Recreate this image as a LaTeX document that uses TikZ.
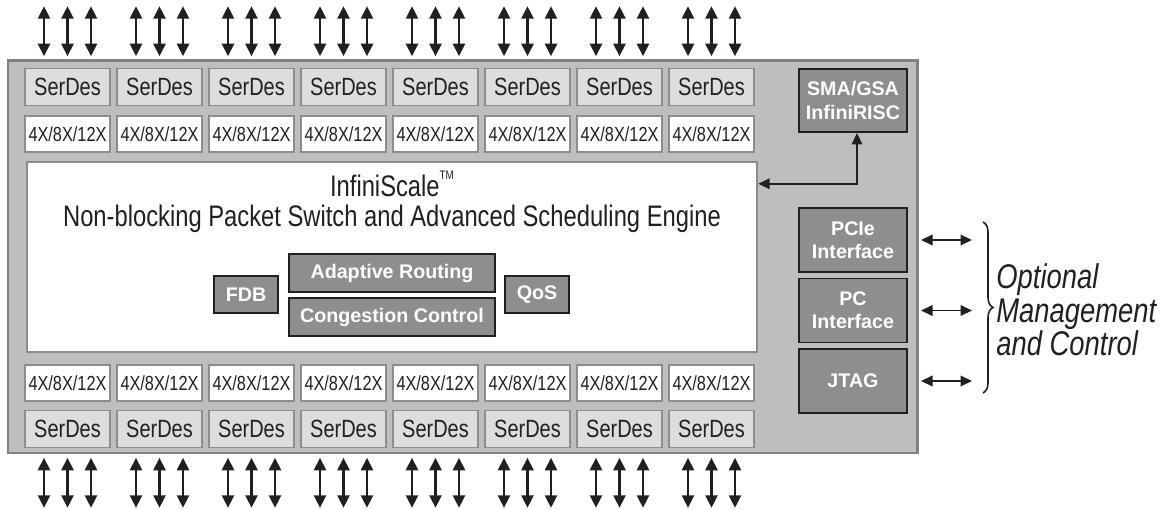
\documentclass[tikz,border=0pt]{standalone}
\usepackage{fontspec}
\usepackage{tikz}
\usetikzlibrary{arrows.meta,decorations.pathreplacing}

\newfontfamily\condfont[FakeStretch=0.8]{Liberation Sans}
\newfontfamily\headfont{Liberation Sans}

\definecolor{chipfill}{HTML}{BDBEC0}
\definecolor{chipedge}{HTML}{808183}
\definecolor{serfill}{HTML}{DCDDDE}
\definecolor{boxedge}{HTML}{8C8D8F}
\definecolor{darkfill}{HTML}{8D8E90}
\definecolor{ink}{HTML}{231F20}

\tikzset{
  chip/.style={draw=chipedge, fill=chipfill, line width=1.7pt, inner sep=0pt},
  serdes/.style={draw=boxedge, fill=serfill, line width=0.9pt, inner sep=0pt,
    minimum width=1.7cm, minimum height=0.74cm, text=ink,
    font=\condfont\fontsize{14.2}{16}\selectfont},
  lane/.style={serdes, fill=white, minimum height=0.72cm,
    font=\condfont\fontsize{11.6}{13}\selectfont},
  darkbox/.style={draw=ink, fill=darkfill, line width=1.1pt, inner sep=0pt,
    text=white, align=center, font=\headfont\bfseries\fontsize{11.2}{13.2}\selectfont},
  bidir/.style={line width=1.4pt, ink,
    {Triangle[length=0.25cm,width=0.24cm]}-{Triangle[length=0.25cm,width=0.24cm]}},
  sidearrow/.style={line width=1.1pt, ink,
    {Triangle[length=0.23cm,width=0.21cm]}-{Triangle[length=0.23cm,width=0.21cm]}}
}

\begin{document}
\begin{tikzpicture}
\useasboundingbox (0,0) rectangle (23.38,-10.2);

% chip outline and switch core
\node[chip, minimum width=18.18cm, minimum height=7.84cm] (chip) at (9.25,-5.14) {};
\node[draw=boxedge, fill=white, line width=1.4pt, inner sep=0pt,
      minimum width=14.6cm, minimum height=3.8cm] (core) at (7.84,-5.14) {};
\node[anchor=base, text=ink, font=\condfont\fontsize{16.9}{18}\selectfont] (title) at (7.84,-3.94)
  {InfiniScale\raisebox{1.1ex}{\fontsize{7}{7}\selectfont TM}};
\node[anchor=base, text=ink, font=\condfont\fontsize{16.9}{18}\selectfont] (subtitle) at (7.84,-4.54)
  {Non-blocking Packet Switch and Advanced Scheduling Engine};

% ports: SerDes and link width, top and bottom
\foreach \i in {1,...,8} {
  \pgfmathsetmacro\cx{1.35+1.84*(\i-1)}
  \node[serdes] (sdt\i) at (\cx,-1.74) {SerDes};
  \node[lane] (lnt\i) at (\cx,-2.68) {4X/8X/12X};
  \node[lane] (lnb\i) at (\cx,-7.66) {4X/8X/12X};
  \node[serdes] (sdb\i) at (\cx,-8.58) {SerDes};
  \foreach \d in {-0.47,0,0.47} {
    \draw[bidir] ([xshift=\d cm, yshift=0.23cm]sdt\i.north) -- ++(0,1.0);
    \draw[bidir] ([xshift=\d cm, yshift=-0.19cm]sdb\i.south) -- ++(0,-1.0);
  }
}

% engine blocks
\node[darkbox, minimum width=1.28cm, minimum height=0.74cm] (fdb) at (4.92,-5.89) {FDB};
\node[darkbox, minimum width=4.12cm, minimum height=0.76cm] (routing) at (7.84,-5.46) {Adaptive Routing};
\node[darkbox, minimum width=4.12cm, minimum height=0.76cm] (congestion) at (7.84,-6.34) {Congestion Control};
\node[darkbox, minimum width=1.28cm, minimum height=0.74cm] (qos) at (10.74,-5.89) {QoS};

% management blocks
\node[darkbox, minimum width=2.16cm, minimum height=1.26cm] (sma) at (17.06,-2.01) {SMA/GSA\\InfiniRISC};
\node[darkbox, minimum width=2.16cm, minimum height=1.28cm] (pcie) at (17.06,-4.80) {PCIe\\Interface};
\node[darkbox, minimum width=2.16cm, minimum height=1.28cm] (pc) at (17.06,-6.21) {PC\\Interface};
\node[darkbox, minimum width=2.16cm, minimum height=1.28cm] (jtag) at (17.06,-7.62) {JTAG};

\draw[sidearrow] ([xshift=0.08cm]sma.south) |- ([yshift=-0.46cm]core.north east);
\draw[sidearrow] ([xshift=0.05cm]chip.east |- pcie.east) -- ++(1.02,0);
\draw[sidearrow] ([xshift=0.05cm]chip.east |- pc.east) -- ++(1.02,0);
\draw[sidearrow] ([xshift=0.05cm]chip.east |- jtag.east) -- ++(1.02,0);

% optional management
\coordinate (bracetop) at (19.66,-4.44);
\coordinate (bracebot) at (19.66,-7.86);
\draw[ink, line width=0.9pt, decorate, decoration={brace, amplitude=0.2cm}] (bracetop) -- (bracebot);
\node[anchor=west, align=left, text=ink, inner sep=0pt,
      font=\condfont\itshape\fontsize{19.5}{19}\selectfont] (optional) at (19.92,-6.2)
  {Optional\\Management\\and Control};
\end{tikzpicture}
\end{document}
